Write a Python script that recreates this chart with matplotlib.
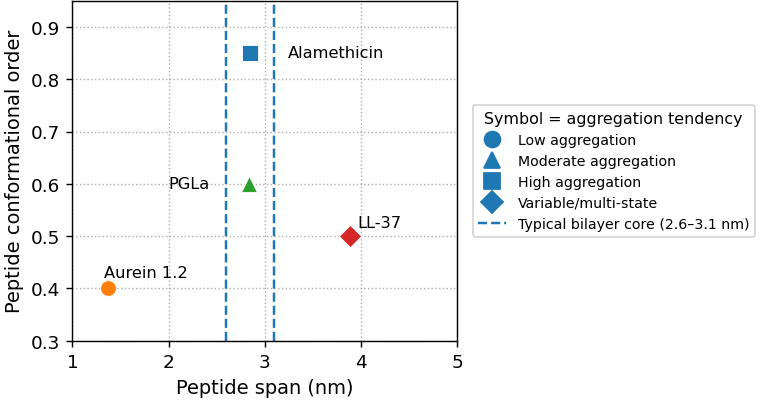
import numpy as np
import matplotlib
matplotlib.use("Agg")
import matplotlib.pyplot as plt
from matplotlib.lines import Line2D

# peptide data
names = ["Aurein 1.2", "PGLa", "Alamethicin", "LL-37"]
span = [1.37, 2.84, 2.85, 3.89]
order = [0.40, 0.60, 0.85, 0.50]
markers = ["o", "^", "s", "D"]
colors = ["#ff7f0e", "#2ca02c", "#1f77b4", "#d62728"]
label_offsets = [(-4, 8), (-40, 0), (38, 0), (7, 6)]
label_ha = ["left", "right", "left", "left"]
label_va = ["bottom", "center", "center", "bottom"]

legend_labels = ["Low aggregation", "Moderate aggregation", "High aggregation", "Variable/multi-state"]
bilayer = [2.6, 3.1]

fig = plt.figure(figsize=(6, 3.18), dpi=127)
ax = fig.add_axes([0.095, 0.154, 0.505, 0.842])

ax.grid(True, ls=":", color="#b0b0b0", lw=0.8, zorder=0)
for xv in bilayer:
    ax.axvline(xv, color="#1f77b4", ls="--", lw=1.4, zorder=2)

for i in range(len(names)):
    ax.scatter(span[i], order[i], marker=markers[i], s=80, color=colors[i],
               edgecolors="white", linewidths=0.5, zorder=3)
    ax.annotate(names[i], (span[i], order[i]), xytext=label_offsets[i],
                textcoords="offset pixels", ha=label_ha[i], va=label_va[i], fontsize=9.2)

ax.set_xlim(1, 5)
ax.set_ylim(0.3, 0.95)
ax.set_xticks([1, 2, 3, 4, 5])
ax.set_yticks([0.3, 0.4, 0.5, 0.6, 0.7, 0.8, 0.9])
ax.tick_params(labelsize=10.4)
ax.set_xlabel("Peptide span (nm)", fontsize=11)
ax.set_ylabel("Peptide conformational order", fontsize=11)

handles = [Line2D([], [], ls="none", marker=m, color="#1f77b4", markersize=9) for m in markers]
handles.append(Line2D([], [], color="#1f77b4", ls="--", lw=1.4))
labels = legend_labels + ["Typical bilayer core (%.1f–%.1f nm)" % (bilayer[0], bilayer[1])]
ax.legend(handles, labels, title="Symbol = aggregation tendency", loc="center left",
          bbox_to_anchor=(1.04, 0.5), borderaxespad=0, fontsize=8, title_fontsize=9)

fig.savefig("out.png", dpi=127)
